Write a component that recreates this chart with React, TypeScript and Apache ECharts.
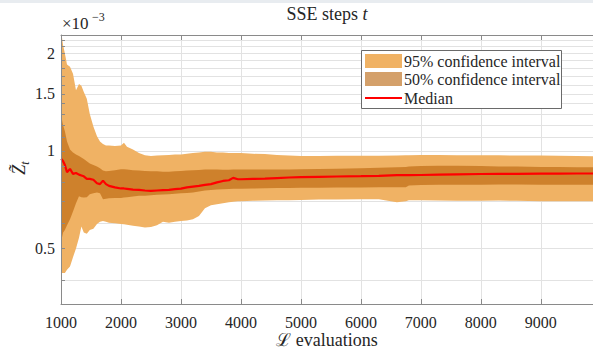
import React, { useEffect, useRef } from "react";
import * as echarts from "echarts";

// x positions (L evaluations)
const xs = [1000, 1015, 1035, 1065, 1100, 1150, 1200, 1250, 1300, 1340, 1380, 1430, 1480, 1540, 1600, 1650, 1700, 1750, 1800, 1900, 2000, 2050, 2100, 2200, 2300, 2400, 2500, 2600, 2700, 2800, 2900, 3000, 3100, 3200, 3300, 3400, 3500, 3600, 3700, 3800, 3870, 3950, 4000, 4200, 4400, 4600, 4800, 5000, 5300, 5600, 6000, 6300, 6600, 6750, 6800, 7000, 7300, 7600, 8000, 8300, 8600, 9000, 9300, 9600, 9870];

// values in units of 1e-3
const hi95 = [2.3, 2.25, 2.12, 2.0, 1.85, 1.82, 1.73, 1.54, 1.61, 1.59, 1.52, 1.45, 1.3, 1.19, 1.11, 1.07, 1.05, 1.04, 1.04, 1.035, 1.04, 1.06, 1.03, 1.01, 0.985, 0.97, 0.965, 0.968, 0.97, 0.972, 0.975, 0.975, 0.98, 0.985, 0.99, 0.995, 0.995, 0.99, 0.99, 0.985, 0.985, 0.985, 0.985, 0.98, 0.978, 0.972, 0.968, 0.965, 0.965, 0.966, 0.966, 0.967, 0.968, 0.97, 0.97, 0.972, 0.972, 0.97, 0.97, 0.97, 0.968, 0.968, 0.966, 0.965, 0.963];
const lo95 = [0.3, 0.42, 0.42, 0.42, 0.43, 0.44, 0.47, 0.5, 0.54, 0.585, 0.56, 0.555, 0.57, 0.575, 0.595, 0.605, 0.608, 0.605, 0.6, 0.598, 0.595, 0.594, 0.592, 0.588, 0.585, 0.58, 0.583, 0.59, 0.605, 0.6, 0.605, 0.608, 0.61, 0.615, 0.63, 0.665, 0.68, 0.685, 0.69, 0.695, 0.697, 0.7, 0.7, 0.702, 0.703, 0.705, 0.705, 0.706, 0.708, 0.708, 0.71, 0.71, 0.695, 0.7, 0.705, 0.705, 0.703, 0.702, 0.702, 0.703, 0.702, 0.7, 0.7, 0.7, 0.7];
const hi50 = [1.3, 1.25, 1.2, 1.15, 1.07, 1.01, 0.99, 0.975, 0.965, 0.955, 0.945, 0.93, 0.915, 0.905, 0.895, 0.885, 0.87, 0.865, 0.868, 0.872, 0.878, 0.878, 0.876, 0.872, 0.87, 0.868, 0.866, 0.865, 0.862, 0.862, 0.865, 0.868, 0.87, 0.872, 0.874, 0.876, 0.876, 0.876, 0.875, 0.875, 0.876, 0.877, 0.877, 0.877, 0.876, 0.876, 0.877, 0.878, 0.88, 0.882, 0.885, 0.887, 0.89, 0.892, 0.895, 0.898, 0.9, 0.9, 0.898, 0.896, 0.895, 0.893, 0.892, 0.891, 0.89];
const lo50 = [0.53, 0.54, 0.56, 0.57, 0.59, 0.615, 0.65, 0.69, 0.725, 0.72, 0.718, 0.72, 0.735, 0.74, 0.744, 0.74, 0.71, 0.712, 0.714, 0.716, 0.716, 0.718, 0.72, 0.724, 0.727, 0.728, 0.73, 0.732, 0.734, 0.735, 0.738, 0.74, 0.742, 0.745, 0.75, 0.755, 0.758, 0.76, 0.762, 0.763, 0.764, 0.765, 0.765, 0.766, 0.767, 0.768, 0.769, 0.77, 0.77, 0.771, 0.771, 0.772, 0.772, 0.772, 0.783, 0.785, 0.786, 0.787, 0.787, 0.788, 0.788, 0.787, 0.787, 0.787, 0.787];
const median = [0.945, 0.94, 0.93, 0.905, 0.86, 0.88, 0.85, 0.855, 0.845, 0.84, 0.835, 0.82, 0.82, 0.815, 0.795, 0.79, 0.81, 0.79, 0.78, 0.772, 0.766, 0.766, 0.764, 0.76, 0.758, 0.755, 0.753, 0.755, 0.757, 0.758, 0.762, 0.765, 0.772, 0.776, 0.78, 0.786, 0.79, 0.8, 0.808, 0.812, 0.826, 0.818, 0.818, 0.82, 0.822, 0.825, 0.828, 0.83, 0.832, 0.834, 0.836, 0.838, 0.842, 0.842, 0.842, 0.843, 0.845, 0.847, 0.849, 0.85, 0.85, 0.851, 0.851, 0.852, 0.852];

const yLabelValues = [0.5, 1, 1.5, 2];
const yGridValues = [0.4, 0.5, 0.6, 0.7, 0.8, 0.9, 1, 1.1, 1.2, 1.3, 1.4, 1.5, 1.6, 1.7, 1.8, 1.9, 2, 2.1, 2.2];
const legendNames = ["95% confidence interval", "50% confidence interval", "Median"];
const xAxisTitle = "\u2112 evaluations";

const Y_MIN = 0.337;
const Y_MAX = 2.28;
const X_MIN = 1000;
const X_MAX = 9870;
const X_STEP = 1000;

const FONT = "Liberation Serif";
const C95 = "#F0B264";
const C50 = "rgba(183,97,7,0.6)";
const CMED = "#FF0000";
const AXIS = "#8a8a8a";
const TXT = "#262626";
const GRIDC = "#e2e2e2";

export default function App() {
  const ref = useRef<HTMLDivElement>(null);
  useEffect(() => {
    if (!ref.current) return;
    const chart = echarts.init(ref.current, null, { renderer: "svg" });
    const lg = (v: number) => Math.log10(v);
    const clampY = (v: number) => Math.min(Math.max(v, Y_MIN), Y_MAX);

    const band = (name: string, lo: number[], hi: number[], color: string, z: number) => ({
      name,
      type: "custom",
      xAxisIndex: 0,
      yAxisIndex: 0,
      data: xs.map((x, i) => [x, lo[i], hi[i]]),
      encode: { x: 0, y: [1, 2] },
      clip: true,
      silent: true,
      z,
      renderItem: (params: any, api: any) => {
        if (params.dataIndex !== 0) return null;
        const top = xs.map((x, i) => api.coord([x, clampY(hi[i])]));
        const bot = xs.map((x, i) => api.coord([x, clampY(lo[i])])).reverse();
        return {
          type: "polygon",
          shape: { points: top.concat(bot) },
          style: { fill: color, stroke: null },
        };
      },
    });

    const option: any = {
      animation: false,
      backgroundColor: "#ffffff",
      grid: { left: 61, top: 35, right: 0, bottom: 45, containLabel: false, outerBoundsMode: "none" },
      xAxis: [
        {
          type: "value",
          position: "bottom",
          min: X_MIN,
          max: X_MAX,
          interval: X_STEP,
          axisLine: { show: true, onZero: false, lineStyle: { color: AXIS, width: 1 } },
          axisTick: { show: true, inside: true, length: 5, lineStyle: { color: AXIS } },
          axisLabel: {
            show: true,
            showMaxLabel: false,
            fontFamily: FONT,
            fontSize: 16,
            color: TXT,
            margin: 10,
            formatter: (v: number) => String(v),
          },
          splitLine: { show: false },
          z: 5,
        },
        {
          type: "value",
          position: "top",
          min: X_MIN,
          max: X_MAX,
          interval: X_STEP,
          axisLine: { show: true, onZero: false, lineStyle: { color: AXIS, width: 1 } },
          axisTick: { show: true, inside: true, length: 5, lineStyle: { color: AXIS } },
          axisLabel: { show: false },
          splitLine: { show: false },
          z: 5,
        },
        {
          type: "value",
          position: "bottom",
          min: X_MIN,
          max: X_MAX,
          interval: X_STEP,
          axisLine: { show: false, onZero: false },
          axisTick: { show: false },
          axisLabel: { show: false },
          splitLine: { show: true, lineStyle: { color: GRIDC, width: 1 } },
          z: 0,
        },
      ],
      yAxis: [
        {
          type: "log",
          logBase: 10,
          min: Y_MIN,
          max: Y_MAX,
          show: false,
        },
        {
          type: "value",
          position: "left",
          min: lg(Y_MIN),
          max: lg(Y_MAX),
          axisLine: { show: true, onZero: false, lineStyle: { color: AXIS, width: 1 } },
          axisTick: {
            show: true,
            inside: true,
            length: 4,
            customValues: yGridValues.map(lg),
            lineStyle: { color: AXIS },
          },
          axisLabel: {
            show: true,
            customValues: yLabelValues.map(lg),
            fontFamily: FONT,
            fontSize: 16,
            color: TXT,
            margin: 6,
            formatter: (v: number) => String(Math.round(Math.pow(10, v) * 10) / 10),
          },
          splitLine: { show: false },
          z: 5,
        },
        {
          type: "value",
          position: "left",
          min: lg(Y_MIN),
          max: lg(Y_MAX),
          axisLine: { show: false, onZero: false },
          axisTick: { show: false, customValues: yGridValues.map(lg) },
          axisLabel: { show: false },
          splitLine: { show: true, lineStyle: { color: GRIDC, width: 1 } },
          z: 0,
        },
      ],
      series: [
        band(legendNames[0], lo95, hi95, C95, 2),
        band(legendNames[1], lo50, hi50, C50, 3),
        {
          name: legendNames[2],
          type: "line",
          xAxisIndex: 0,
          yAxisIndex: 0,
          data: xs.map((x, i) => [x, median[i]]),
          symbol: "none",
          lineStyle: { color: CMED, width: 2.2 },
          itemStyle: { color: CMED },
          silent: true,
          z: 4,
        },
      ],
      graphic: [
        { type: "rect", left: 0, top: 0, shape: { width: 593, height: 3 }, style: { fill: "#e8ecf0" }, silent: true },
        {
          type: "text",
          x: 327,
          y: 14,
          style: {
            text: "{a|SSE steps }{b|t}",
            align: "center",
            verticalAlign: "middle",
            rich: {
              a: { fontFamily: FONT, fontSize: 18, fill: TXT },
              b: { fontFamily: FONT, fontSize: 18, fontStyle: "italic", fill: TXT },
            },
          },
        },
        {
          type: "text",
          x: 327,
          y: 340,
          style: { text: xAxisTitle, fontFamily: FONT, fontSize: 18, fill: TXT, align: "center", verticalAlign: "middle" },
        },
        {
          type: "text",
          x: 19,
          y: 168,
          rotation: Math.PI / 2,
          style: {
            text: "{z|Z\u0303}{t|t}",
            align: "center",
            verticalAlign: "middle",
            rich: {
              z: { fontFamily: FONT, fontStyle: "italic", fontSize: 18, fill: TXT, lineHeight: 24 },
              t: { fontFamily: FONT, fontStyle: "italic", fontSize: 12, fill: TXT, verticalAlign: "bottom" },
            },
          },
        },
        {
          type: "text",
          x: 62,
          y: 23,
          style: { text: "\u00d710", fontFamily: FONT, fontSize: 17, fill: TXT, align: "left", verticalAlign: "middle" },
        },
        {
          type: "text",
          x: 92,
          y: 17,
          style: { text: "\u22123", fontFamily: FONT, fontSize: 12, fill: TXT, align: "left", verticalAlign: "middle" },
        },
        // legend box
        {
          type: "rect",
          shape: { x: 361.5, y: 50.5, width: 200, height: 58 },
          style: { fill: "#ffffff", stroke: "#6a6a6a", lineWidth: 1 },
          z: 100,
        },
        { type: "rect", shape: { x: 365, y: 54, width: 37, height: 14 }, style: { fill: C95 }, z: 101 },
        { type: "rect", shape: { x: 365, y: 72, width: 37, height: 14 }, style: { fill: C50 }, z: 101 },
        {
          type: "line",
          shape: { x1: 365, y1: 98, x2: 402, y2: 98 },
          style: { stroke: CMED, lineWidth: 2 },
          z: 101,
        },
        {
          type: "text",
          x: 404,
          y: 61,
          z: 101,
          style: { text: legendNames[0], fontFamily: FONT, fontSize: 16, fill: TXT, align: "left", verticalAlign: "middle" },
        },
        {
          type: "text",
          x: 404,
          y: 79.5,
          z: 101,
          style: { text: legendNames[1], fontFamily: FONT, fontSize: 16, fill: TXT, align: "left", verticalAlign: "middle" },
        },
        {
          type: "text",
          x: 404,
          y: 98,
          z: 101,
          style: { text: legendNames[2], fontFamily: FONT, fontSize: 16, fill: TXT, align: "left", verticalAlign: "middle" },
        },
      ],
    };
    chart.setOption(option);
    return () => chart.dispose();
  }, []);
  return (
    <div
      ref={ref}
      style={{ position: "absolute", left: 0, top: 0, width: 593, height: 349, background: "#fff" }}
    />
  );
}
